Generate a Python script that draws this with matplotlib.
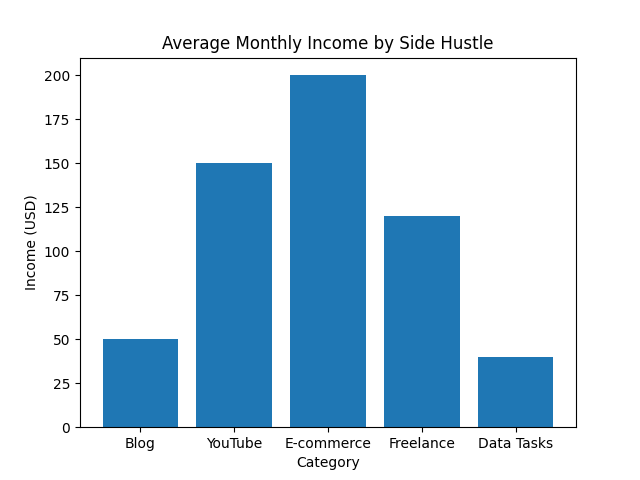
import matplotlib
matplotlib.use('Agg')
import matplotlib.pyplot as plt

categories = ['Blog', 'YouTube', 'E-commerce', 'Freelance', 'Data Tasks']
income = [50, 150, 200, 120, 40]

fig, ax = plt.subplots(figsize=(6.4, 4.8), dpi=100)
ax.bar(categories, income)
ax.set_title('Average Monthly Income by Side Hustle')
ax.set_xlabel('Category')
ax.set_ylabel('Income (USD)')
fig.savefig('out.png')
